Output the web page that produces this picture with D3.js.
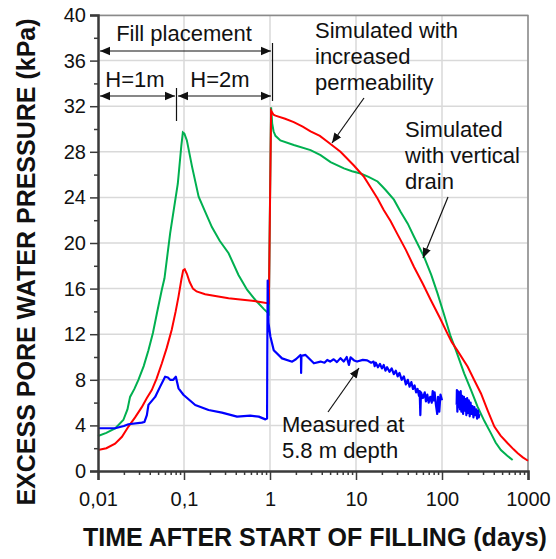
<!DOCTYPE html>
<html>
<head>
<meta charset="utf-8">
<script src="https://cdn.jsdelivr.net/npm/d3@7"></script>
<style>
  body { margin: 0; background: #fff; }
  text { font-family: Arial, 'Liberation Sans', sans-serif; fill: #111; }
</style>
</head>
<body>
<div id="chart"></div>
<script>
// time (days), excess pore pressure (kPa)
const redSeries = [
  [0.01, 1.85], [0.0125, 2.0], [0.0158, 2.4], [0.019, 3.0], [0.0226, 3.9], [0.027, 4.7],
  [0.0323, 5.6], [0.037, 6.4], [0.0422, 7.1], [0.048, 8.1], [0.0553, 9.45], [0.063, 10.8],
  [0.072, 12.4], [0.08, 14.0], [0.0863, 15.3], [0.093, 16.75], [0.0978, 17.6], [0.102, 17.7],
  [0.108, 17.3], [0.116, 16.6], [0.127, 16.0], [0.14, 15.75], [0.176, 15.5], [0.25, 15.3],
  [0.33, 15.15], [0.45, 15.05], [0.62, 14.94], [0.8, 14.8], [0.97, 14.7], [1.03, 31.6],
  [1.1, 31.25], [1.157, 31.17], [1.5, 30.9], [1.89, 30.6], [2.4, 30.2], [2.96, 29.8],
  [3.8, 29.4], [4.63, 28.9], [6.6, 28.0], [9.45, 26.8], [12.4, 25.8], [15, 24.8],
  [17.8, 23.9], [21, 22.9], [25.3, 21.9], [30.2, 20.8], [38, 19.4], [47.3, 17.9],
  [60, 16.4], [74, 15.0], [95, 13.4], [115, 12.1], [130, 11.3], [150, 10.6], [199, 9.15],
  [240, 7.9], [284, 6.8], [340, 5.3], [406, 3.9], [480, 3.1], [580, 2.43], [680, 1.9],
  [760, 1.55], [870, 1.2], [1000, 0.9]
]

const greenSeries = [
  [0.01, 3.07], [0.0125, 3.35], [0.0158, 3.74], [0.0197, 4.47], [0.022, 5.4], [0.0236, 6.5],
  [0.0265, 7.2], [0.0295, 8.0], [0.034, 9.2], [0.0386, 10.6], [0.0435, 12.1], [0.0483, 13.8],
  [0.0552, 15.9], [0.0593, 16.9], [0.069, 20.85], [0.0847, 25.2], [0.093, 28.5], [0.097, 29.7],
  [0.101, 29.6], [0.108, 29.0], [0.124, 26.7], [0.148, 24.06], [0.175, 22.8], [0.211, 21.4],
  [0.26, 20.2], [0.33, 19.1], [0.43, 17.2], [0.541, 15.9], [0.676, 15.0], [0.85, 14.2],
  [0.966, 13.8], [1.03, 31.9], [1.06, 30.5], [1.1, 29.8], [1.157, 29.4], [1.32, 29.0],
  [1.89, 28.6], [2.96, 28.15], [3.87, 27.7], [5.06, 27.1], [7.24, 26.55], [9, 26.3],
  [11.3, 26.1], [14, 25.8], [17.8, 25.4], [20, 25.0], [22.1, 24.65], [27.6, 23.8],
  [33, 22.75], [40, 21.7], [47.3, 20.55], [61.7, 18.8], [75, 17.2], [88.5, 15.6],
  [105, 13.8], [126, 11.8], [145, 10.6], [181, 8.57], [220, 7.0], [259, 5.64],
  [310, 4.4], [371, 3.3], [420, 2.5], [484, 1.84], [570, 1.35], [663, 0.96]
]

// measured at 5.8 m depth (null = logger gap)
const blueSeries = [
  [0.01, 3.75], [0.0158, 3.75], [0.02, 3.95], [0.0226, 4.1], [0.0323, 4.24], [0.0347, 4.3],
  [0.037, 4.9], [0.0386, 5.8], [0.0462, 6.5], [0.0528, 7.4], [0.0603, 8.27], [0.065, 8.2],
  [0.069, 8.0], [0.075, 8.0], [0.0804, 8.27], [0.0863, 7.25], [0.099, 6.67], [0.135, 5.79],
  [0.193, 5.35], [0.276, 5.12], [0.414, 4.77], [0.59, 4.85], [0.74, 4.77], [0.884, 4.53],
  [0.925, 4.6], [0.93, 10], [0.94, 16.7], [0.96, 13], [1.01, 11.8], [1.105, 10.6],
  [1.38, 9.88], [1.81, 9.59], [2.0, 9.8], [2.26, 10.18], [2.29, 10.1], [2.3, 8.6],
  [2.32, 10.1], [2.59, 10.18], [3.24, 9.45], [3.87, 9.6], [4.3, 9.5], [4.63, 9.74],
  [5.0, 9.6], [5.5, 9.8], [6.0, 9.55], [6.6, 9.9], [7.2, 9.6], [7.8, 10.0], [8.27, 9.3],
  [8.65, 9.97], [9.5, 9.7], [10.3, 9.6], [12, 9.75], [13.5, 9.7], [15, 9.5], [16, 9.6],
  [16.5, 9.2], [17, 9.5], [18, 9.1], [19, 9.4], [20, 9.0], [21, 9.3], [22, 8.8], [23, 9.1],
  [24.5, 8.7], [26, 9.0], [27.5, 8.5], [29, 8.8], [30.5, 8.3], [32, 8.6], [34, 8.0],
  [36, 8.3], [38, 7.6], [40, 8.0], [42, 7.4], [44, 7.8], [46, 7.2], [48, 7.5], [50, 6.9],
  [52, 7.2], [54, 6.6], [55, 7.0], [56, 4.9], [57, 6.9], [60, 6.4], [63, 6.9], [65, 6.1],
  [67.5, 6.7], [70, 6.0], [73, 6.5], [76, 6.0], [78, 7.0], [80, 6.2], [82, 6.9], [85, 5.8],
  [88, 5.0], [90, 6.5], [93, 5.2], [96, 6.7], [100, 6.2], [120, null],
  [148, 5.8], [149, 7.1], [151, 5.2], [153, 7.0], [156, 5.6], [159, 6.9], [162, 5.4],
  [165, 7.0], [168, 5.2], [172, 6.6], [176, 5.0], [180, 6.5], [184, 5.3], [188, 6.3],
  [192, 4.9], [196, 6.4], [200, 5.1], [205, 6.2], [210, 4.8], [215, 6.0], [220, 5.0],
  [226, 5.7], [232, 4.7], [238, 5.6], [244, 4.9], [250, 5.4], [256, 4.6], [262, 5.3],
  [268, 4.7], [272, 5.0]
]

const xMajor = [0.01, 0.1, 1, 10, 100, 1000]
const xLabels = ['0,01', '0,1', '1', '10', '100', '1000']
const yMajor = [0, 4, 8, 12, 16, 20, 24, 28, 32, 36, 40]
const yMinor = [2, 6, 10, 14, 18, 22, 26, 30, 34, 38]

const margin = { top: 15, left: 98, right: 28, bottom: 88 }
const width = 556 - margin.left - margin.right
const height = 559 - margin.top - margin.bottom

const svg = d3
  .select('#chart')
  .append('svg')
  .attr('width', 556)
  .attr('height', 559)

const defs = svg.append('defs')
defs
  .append('marker')
  .attr('id', 'head')
  .attr('viewBox', '0 0 10 10')
  .attr('refX', 10)
  .attr('refY', 5)
  .attr('markerWidth', 10)
  .attr('markerHeight', 10)
  .attr('markerUnits', 'userSpaceOnUse')
  .attr('orient', 'auto-start-reverse')
  .append('path')
  .attr('d', 'M0,0.8 L10,5 L0,9.2 Z')
  .attr('fill', '#111')

const g = svg
  .append('g')
  .attr('transform', 'translate(' + margin.left + ',' + margin.top + ')')

const x = d3.scaleLog().domain([0.01, 1000]).range([0, width])
const y = d3.scaleLinear().domain([0, 40]).range([height, 0])

// grid
g.selectAll('.vgrid')
  .data(xMajor.slice(1))
  .enter()
  .append('line')
  .attr('x1', d => x(d))
  .attr('x2', d => x(d))
  .attr('y1', 0)
  .attr('y2', height)
  .attr('stroke', '#d9d9d9')
  .attr('stroke-width', 1.5)

g.selectAll('.hgrid')
  .data(yMajor.slice(1))
  .enter()
  .append('line')
  .attr('x1', 0)
  .attr('x2', width)
  .attr('y1', d => y(d))
  .attr('y2', d => y(d))
  .attr('stroke', '#d9d9d9')
  .attr('stroke-width', 1.5)

// frame top / right
g.append('path')
  .attr('d', 'M0,0.5 H' + width + ' V' + height)
  .attr('fill', 'none')
  .attr('stroke', '#8a8a8a')
  .attr('stroke-width', 1.5)

// series
const line = d3
  .line()
  .defined(d => d[1] != null)
  .x(d => x(d[0]))
  .y(d => y(d[1]))

g.append('path').datum(greenSeries).attr('d', line)
  .attr('fill', 'none').attr('stroke', '#00b050').attr('stroke-width', 2)
g.append('path').datum(redSeries).attr('d', line)
  .attr('fill', 'none').attr('stroke', '#ff0000').attr('stroke-width', 2)
g.append('path').datum(blueSeries).attr('d', line)
  .attr('fill', 'none').attr('stroke', '#0000ff').attr('stroke-width', 2.2)
  .attr('stroke-linejoin', 'round')

// axes (minor ticks in their own groups so the major labels survive)
g.append('g')
  .attr('class', 'minor')
  .call(d3.axisLeft(y).tickValues(yMinor).tickSize(4).tickFormat(''))
g.append('g')
  .attr('class', 'minor')
  .attr('transform', 'translate(0,' + height + ')')
  .call(d3.axisBottom(x).tickValues(x.ticks().filter(t => xMajor.indexOf(t) < 0))
    .tickSize(4).tickFormat(''))
g.selectAll('.minor .domain').remove()

g.append('g')
  .call(d3.axisLeft(y).tickValues(yMajor).tickSize(8).tickPadding(4))
g.append('g')
  .attr('transform', 'translate(0,' + height + ')')
  .call(d3.axisBottom(x).tickValues(xMajor).tickSize(9).tickPadding(12)
    .tickFormat((d, i) => xLabels[i]))

svg.selectAll('.domain').attr('stroke', '#3a3a3a').attr('stroke-width', 2.5)
svg.selectAll('.tick line').attr('stroke', '#3a3a3a').attr('stroke-width', 1.5)
svg.selectAll('.tick text')
  .attr('font-size', 20)
  .attr('font-family', 'Arial, Liberation Sans, sans-serif')
  .attr('fill', '#111')

// axis titles
svg.append('text')
  .attr('transform', 'translate(35,262) rotate(-90)')
  .attr('text-anchor', 'middle')
  .attr('font-size', 25)
  .attr('font-weight', 700)
  .text('EXCESS PORE WATER PRESSURE (kPa)')

svg.append('text')
  .attr('x', 315)
  .attr('y', 546)
  .attr('text-anchor', 'middle')
  .attr('font-size', 25)
  .attr('font-weight', 700)
  .text('TIME AFTER START OF FILLING (days)')

// fill placement brackets
const ann = svg.append('g')
  .attr('stroke', '#111')
  .attr('stroke-width', 1.2)
  .attr('fill', 'none')

ann.append('line').attr('x1', 100).attr('x2', 271).attr('y1', 51).attr('y2', 51)
  .attr('marker-start', 'url(#head)').attr('marker-end', 'url(#head)')
ann.append('line').attr('x1', 100).attr('x2', 175).attr('y1', 96).attr('y2', 96)
  .attr('marker-start', 'url(#head)').attr('marker-end', 'url(#head)')
ann.append('line').attr('x1', 178).attr('x2', 271).attr('y1', 96).attr('y2', 96)
  .attr('marker-start', 'url(#head)').attr('marker-end', 'url(#head)')
ann.append('line').attr('x1', 176.5).attr('x2', 176.5).attr('y1', 88).attr('y2', 121)
ann.append('line').attr('x1', 272.5).attr('x2', 272.5).attr('y1', 43).attr('y2', 101)

// label arrows
ann.append('line').attr('x1', 364).attr('y1', 98).attr('x2', 332).attr('y2', 143)
  .attr('marker-end', 'url(#head)')
ann.append('line').attr('x1', 448).attr('y1', 197).attr('x2', 423).attr('y2', 258)
  .attr('marker-end', 'url(#head)')
ann.append('line').attr('x1', 328).attr('y1', 412).attr('x2', 359).attr('y2', 368)
  .attr('marker-end', 'url(#head)')

function label(lines, lx, ly, anchor) {
  const t = svg.append('text')
    .attr('font-size', 22)
    .attr('text-anchor', anchor || 'start')
  lines.forEach((s, i) => {
    t.append('tspan').attr('x', lx).attr('y', ly + i * 26).text(s)
  })
}

label(['Fill placement'], 184, 41, 'middle')
label(['H=1m'], 135, 87, 'middle')
label(['H=2m'], 220, 87, 'middle')
label(['Simulated with', 'increased', 'permeability'], 315, 38)
label(['Simulated', 'with vertical', 'drain'], 405, 137)
label(['Measured at', '5.8 m depth'], 282, 432)
</script>
</body>
</html>
